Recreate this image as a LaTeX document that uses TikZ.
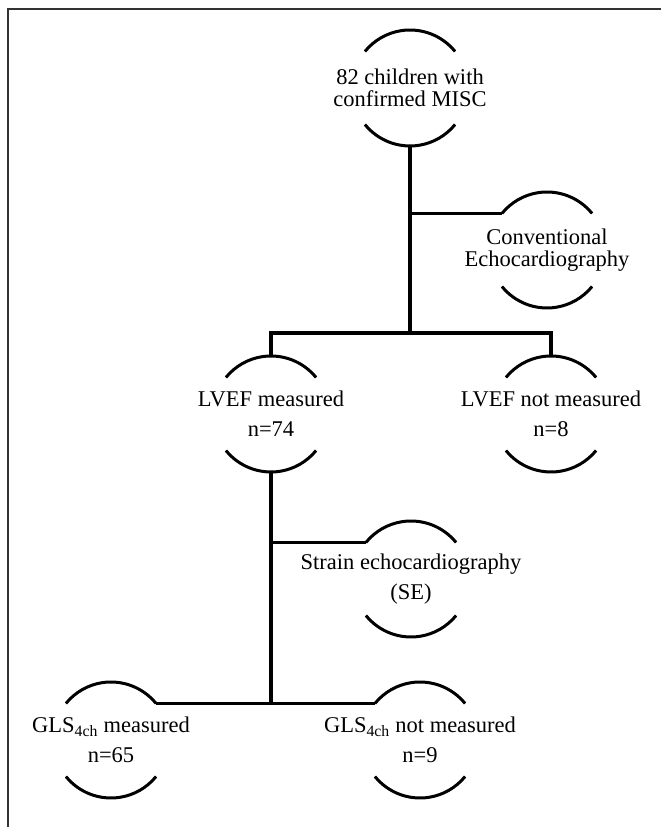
\documentclass[tikz,border=0pt]{standalone}
\usepackage{fontspec}
\setmainfont{Liberation Serif}

\begin{document}
\begin{tikzpicture}[x=1pt,y=1pt,
    lbl/.style={align=center,inner sep=0pt,font=\fontsize{22.5}{22}\selectfont},
    capline/.style={line width=3pt},
    link/.style={line width=3.6pt}]
\useasboundingbox (0,0) rectangle (661,827);
\draw[line width=1.8pt,black!80] (8,0) -- (8,818) -- (661,818);

\node[lbl] (top) at (410,739) {82 children with\\confirmed MISC};
\node[lbl] (conv) at (547,577) {Conventional\\Echocardiography};
\node[lbl] (lvefm) at (271,413) {LVEF measured\\[8pt]n=74};
\node[lbl] (lvefn) at (551,413) {LVEF not measured\\[8pt]n=8};
\node[lbl] (strain) at (411,248) {Strain echocardiography\\[8pt](SE)};
\node[lbl] (glsm) at (111,87) {GLS\textsubscript{4ch} measured\\[8pt]n=65};
\node[lbl] (glsn) at (420,87) {GLS\textsubscript{4ch} not measured\\[8pt]n=9};

% open circles round each label
\foreach \n in {top,conv,lvefm,lvefn,strain,glsm,glsn} {
    \draw[capline] (\n.center) ++(39:58) coordinate (\n-tr)
        arc[start angle=39,end angle=141,radius=58] coordinate (\n-tl);
    \draw[capline] (\n.center) ++(-141:58) coordinate (\n-bl)
        arc[start angle=-141,end angle=-39,radius=58] coordinate (\n-br);
    \coordinate (\n-t) at ([yshift=58pt]\n.center);
    \coordinate (\n-b) at ([yshift=-58pt]\n.center);
}

\coordinate (split) at (410,494);
\draw[link] (top-b) -- (split);
\draw[link] (top-b |- conv-tl) -- (conv-tl);
\draw[link] (lvefm-t) |- (split) -| (lvefn-t);
\draw[link] (lvefm-b) -- (lvefm-b |- glsm-tr);
\draw[link] (lvefm-b |- strain-tl) -- (strain-tl);
\draw[link] (glsm-tr) -- (glsn-tl);
\end{tikzpicture}
\end{document}
